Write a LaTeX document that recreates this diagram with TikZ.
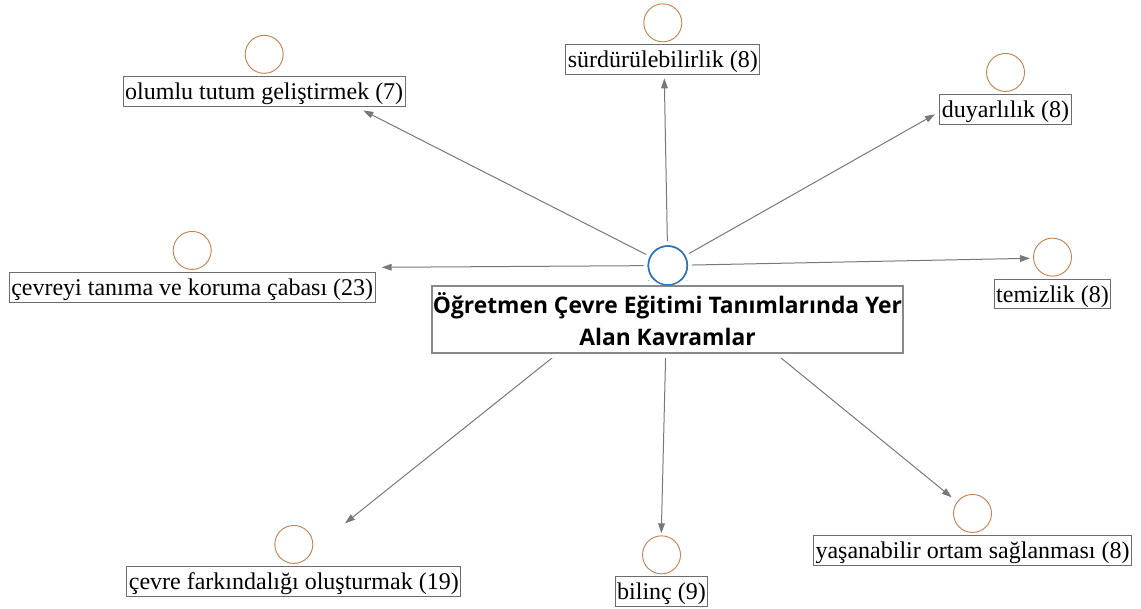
\documentclass[tikz,border=0pt]{standalone}
\usepackage{fontspec}
\setmainfont{Liberation Serif}
\newfontfamily\titlefont{Open Sans}
\usetikzlibrary{arrows.meta,positioning}
\definecolor{hubblue}{RGB}{46,117,182}
\definecolor{ringbrown}{RGB}{196,130,84}
\definecolor{framegray}{RGB}{105,108,112}
\definecolor{linkgray}{RGB}{120,120,120}
\tikzset{
  concept/.style={draw=framegray, line width=0.7pt, fill=white, font=\fontsize{18}{20}\selectfont,
    inner xsep=1.6pt, inner ysep=1.2pt, text height=16pt, text depth=4pt},
  ring/.style={circle, draw=ringbrown, line width=0.7pt, minimum size=28.5pt, inner sep=0pt},
  hubring/.style={circle, draw=hubblue, line width=1.1pt, minimum size=29.25pt, inner sep=0pt, outer sep=3.6pt},
  link/.style={draw=linkgray, line width=0.75pt, -{Triangle[length=7.5pt,width=5pt]}, linkgray},
  headline/.style={draw=framegray!80, line width=1pt, fill=white, preaction={draw=white, line width=8pt},
    minimum width=353.25pt, minimum height=50.25pt, align=center, inner sep=0pt,
    font=\titlefont\bfseries\fontsize{17.1}{24}\selectfont}
}
\begin{document}
\begin{tikzpicture}[x=0.75pt, y=-0.75pt]
\useasboundingbox (0,0) rectangle (1141,608);

% central ring
\node[hubring] (hub) at (667.8,265.5) {};

% concept labels with their rings
\node[concept] (l1) at (264.2,91.2) {olumlu tutum geliştirmek (7)};
\node[ring, above=1.5pt of l1] (c1) {};
\node[concept] (l2) at (662.8,59.7) {sürdürülebilirlik (8)};
\node[ring, above=1.5pt of l2] (c2) {};
\node[concept] (l3) at (1005.5,109.3) {duyarlılık (8)};
\node[ring, above=1.5pt of l3] (c3) {};
\node[concept] (l4) at (192.2,287.3) {çevreyi tanıma ve koruma çabası (23)};
\node[ring, above=1.5pt of l4] (c4) {};
\node[concept] (l5) at (1052.5,294) {temizlik (8)};
\node[ring, above=1.5pt of l5] (c5) {};
\node[concept] (l6) at (293.8,581.3) {çevre farkındalığı oluşturmak (19)};
\node[ring, above=1.5pt of l6] (c6) {};
\node[concept] (l7) at (661.5,591.7) {bilinç (9)};
\node[ring, above=1.5pt of l7] (c7) {};
\node[concept] (l8) at (972.5,550.3) {yaşanabilir ortam sağlanması (8)};
\node[ring, above=1.5pt of l8] (c8) {};

% arrow tips
\coordinate (t1) at (363.3,110.5);
\coordinate (t2) at (664.3,78.3);
\coordinate (t3) at (935,114.3);
\coordinate (t4) at (381.7,267.3);
\coordinate (t5) at (1030,258.3);
\coordinate (t6) at (345,523.3);
\coordinate (t7) at (661.3,533.3);
\coordinate (t8) at (951.7,497.3);

% connectors from the hub
\foreach \t in {t1,t2,t3,t4,t5,t6,t7,t8}
  \draw[link] (hub) -- (\t);

% title box on top of the connectors
\node[headline] (title) at (667.5,319.5) {Öğretmen Çevre Eğitimi Tanımlarında Yer\\Alan Kavramlar};

% hub outline redrawn above the title's white margin
\draw[hubblue, line width=1.1pt] (hub.center) circle[radius=14.625pt];
\end{tikzpicture}
\end{document}
